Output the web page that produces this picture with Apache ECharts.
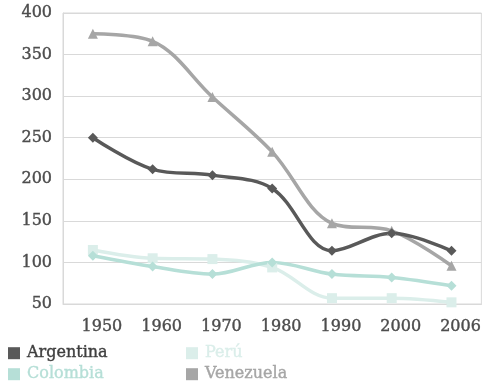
<!DOCTYPE html>
<html>
<head>
<meta charset="utf-8">
<script src="https://cdn.jsdelivr.net/npm/echarts@6/dist/echarts.min.js"></script>
<style>
  html, body { margin: 0; padding: 0; background: #fff; }
  #chart { width: 484px; height: 384px; }
</style>
</head>
<body>
<div id="chart"></div>
<script>
// Decades shown on the horizontal axis
const years = ['1950', '1960', '1970', '1980', '1990', '2000', '2006'];

// Values per country
const argentina = [250, 212, 205, 189, 114, 135, 114];
const colombia  = [108, 95, 86, 100, 86, 82, 72];
const peru      = [115, 105, 104, 94, 57, 57, 52];
const venezuela = [375, 366, 299, 233, 147, 138, 96];

const fontFamily = 'DejaVu Serif';
const labelColor = '#4d4d4d';

const colors = {
  Argentina: '#595959',
  Colombia: '#b6dfd7',
  'Perú': '#dbeeea',
  Venezuela: '#a6a6a6'
};

function lineSeries(name, data, symbol, size) {
  return {
    name: name,
    type: 'line',
    data: data,
    smooth: 0.35,
    symbol: symbol,
    symbolSize: size,
    showSymbol: true,
    lineStyle: { width: 3.5, color: colors[name] },
    itemStyle: { color: colors[name] },
    emphasis: { disabled: true }
  };
}

// One legend block per entry, laid out as a two-by-two table
function legendBlock(name, left, top) {
  const textColor = name === 'Argentina' ? '#3f3f3f' : colors[name];
  return {
    left: left, top: top,
    itemWidth: 12, itemHeight: 12, itemGap: 0, padding: 0,
    icon: 'rect',
    textStyle: {
      fontFamily: fontFamily, fontSize: 16,
      color: textColor,
      textBorderColor: textColor, textBorderWidth: 0.4,
      padding: [0, 0, 0, 2]
    },
    data: [name]
  };
}

const tickText = {
  color: labelColor, fontFamily: fontFamily, fontSize: 16,
  textBorderColor: labelColor, textBorderWidth: 0.4
};

const chart = echarts.init(document.getElementById('chart'));
chart.setOption({
  animation: false,
  grid: {
    left: 63, right: 2, top: 13, bottom: 80,
    show: true, borderColor: '#d9d9d9', borderWidth: 1
  },
  legend: [
    legendBlock('Argentina', 8, 345),
    legendBlock('Colombia', 8, 366),
    legendBlock('Perú', 186, 345),
    legendBlock('Venezuela', 186, 366)
  ],
  xAxis: {
    type: 'category',
    data: years,
    boundaryGap: true,
    axisLine: { show: true, lineStyle: { color: '#d9d9d9' } },
    axisTick: { show: false },
    axisLabel: Object.assign({ margin: 15, padding: [0, 0, 0, 18] }, tickText)
  },
  yAxis: {
    type: 'value',
    min: 50, max: 400, interval: 50,
    axisLine: { show: true, lineStyle: { color: '#d9d9d9' } },
    axisTick: { show: false },
    splitLine: { lineStyle: { color: '#d9d9d9', width: 1 } },
    axisLabel: Object.assign({ margin: 11 }, tickText)
  },
  series: [
    lineSeries('Venezuela', venezuela, 'triangle', 10),
    lineSeries('Perú', peru, 'rect', 10),
    lineSeries('Colombia', colombia, 'diamond', 10),
    lineSeries('Argentina', argentina, 'diamond', 10)
  ]
});
</script>
</body>
</html>
